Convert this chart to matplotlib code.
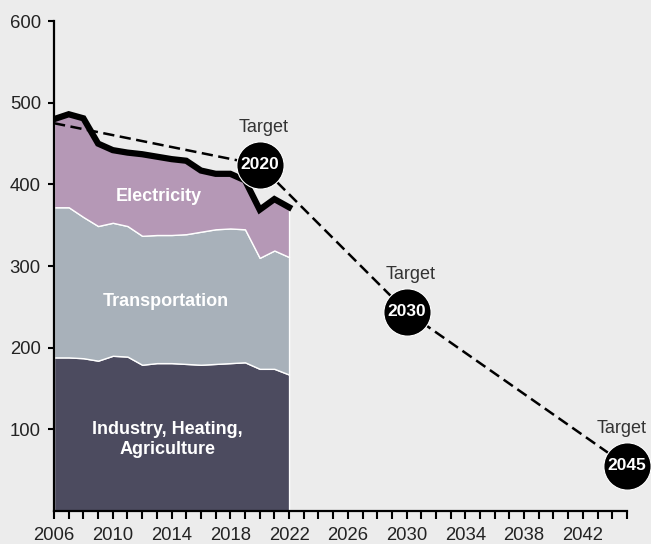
import numpy as np
import matplotlib
matplotlib.use("Agg")
import matplotlib.pyplot as plt

plt.rcParams['font.family'] = ['Liberation Sans', 'DejaVu Sans']

# emissions by sector, 2006-2022
years = list(range(2006, 2023))
industry = [188, 188, 187, 184, 190, 189, 179, 181, 181, 180, 179, 180, 181, 182, 174, 174, 167]
transportation = [184, 184, 173, 165, 163, 160, 158, 157, 157, 159, 163, 165, 165, 163, 136, 145, 144]
electricity = [108, 114, 121, 101, 89, 90, 100, 96, 93, 90, 75, 68, 67, 60, 59, 63, 61]
sector_names = ["Industry, Heating,\nAgriculture", "Transportation", "Electricity"]

# target path
target_years = [2006, 2020, 2030, 2045]
target_values = [475, 424, 244, 55]
target_labels = ["2020", "2030", "2045"]

xtick_labels = [2006, 2010, 2014, 2018, 2022, 2026, 2030, 2034, 2038, 2042]
ytick_labels = [100, 200, 300, 400, 500, 600]

bg = "#ececec"
colors = ["#4c4b5f", "#a8b1ba", "#b598b6"]

fig = plt.figure(figsize=(6.51, 5.44), dpi=100, facecolor=bg)
ax = fig.add_axes([0.083, 0.061, 0.880, 0.900])
ax.set_facecolor(bg)

ax.stackplot(years, industry, transportation, electricity, colors=colors,
             edgecolor="white", linewidth=1, zorder=2)

total = np.array(industry) + np.array(transportation) + np.array(electricity)
ax.plot(years, total, color="black", lw=4.5, solid_joinstyle="miter", zorder=3)

ax.plot(target_years, target_values, color="black", lw=1.8, dashes=(4.5, 2.2), zorder=4)
for yr, val, lab in zip(target_years[1:], target_values[1:], target_labels):
    ax.plot(yr, val, "o", ms=34, color="black", mec="white", mew=0.8,
            zorder=5, clip_on=False)
    ax.text(yr, val, lab, color="white", fontsize=12.5, fontweight="bold",
            ha="center", va="center", zorder=6, clip_on=False)
    dx = -4 if yr == target_years[-1] else 3
    ax.annotate("Target", (yr, val), xytext=(dx, 27), textcoords="offset points",
                ha="center", va="center", fontsize=13, color="#333333", zorder=6)

# sector labels
label_pos = [(2013.7, 87), (2013.6, 257), (2013.1, 385)]
for (x, y), name in zip(label_pos, sector_names):
    ax.text(x, y, name, color="white", fontsize=13, fontweight="bold",
            ha="center", va="center", linespacing=1.25, zorder=4)

ax.set_xlim(2006, 2045)
ax.set_ylim(0, 600)
ax.set_xticks(range(2006, 2046))
ax.set_xticklabels([str(y) if y in xtick_labels else "" for y in range(2006, 2046)])
ax.set_yticks(ytick_labels)
ax.set_yticklabels([str(v) for v in ytick_labels])

for s in ["top", "right"]:
    ax.spines[s].set_visible(False)
for s in ["left", "bottom"]:
    ax.spines[s].set_linewidth(1.6)
    ax.spines[s].set_zorder(7)

ax.tick_params(axis="x", length=6, width=1.5, pad=6, labelsize=13.3, colors="black",
               labelcolor="#222222")
ax.tick_params(axis="y", length=4.5, width=1.5, pad=5, labelsize=13.3, colors="black",
               labelcolor="#222222")

fig.savefig("out.png", dpi=100, facecolor=bg)
